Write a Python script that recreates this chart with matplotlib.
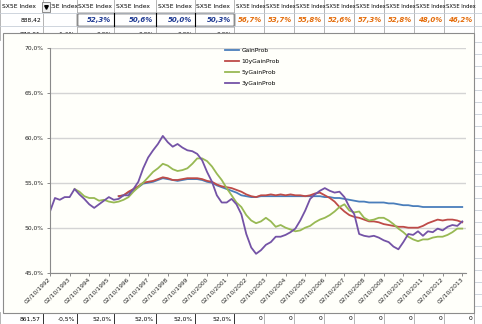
import pandas as pd
import matplotlib
matplotlib.use("Agg")
import matplotlib.pyplot as plt
from matplotlib.patches import Rectangle
from matplotlib.ticker import FuncFormatter, MultipleLocator
from datetime import datetime

plt.rcParams['font.family'] = ['DejaVu Sans']

# quarterly readings, Oct 1992 .. Oct 2013
dates = pd.date_range("1992-10-01", periods=85, freq="QS-OCT")

prob_3y = [51.8, 53.3, 53.1, 53.4, 53.4, 54.3, 53.7, 53.2, 52.6, 52.2,
           52.6, 53.0, 53.4, 53.1, 53.2, 53.6, 53.6, 54.3, 55.1, 56.6,
           57.8, 58.6, 59.3, 60.2, 59.5, 59.0, 59.3, 58.9, 58.6, 58.5,
           58.2, 57.5, 56.2, 55.1, 53.6, 52.8, 52.8, 53.2, 52.6, 51.5,
           49.3, 47.8, 47.1, 47.5, 48.1, 48.4, 49.0, 49.0, 49.2, 49.5,
           49.9, 50.8, 51.9, 53.2, 53.7, 54.1, 54.4, 54.1, 53.9, 54.0,
           53.4, 52.3, 51.5, 49.3, 49.1, 49.0, 49.1, 48.9, 48.6, 48.4,
           47.9, 47.6, 48.4, 49.3, 49.2, 49.6, 49.1, 49.6, 49.5, 49.9,
           49.7, 50.1, 50.3, 50.2, 50.7]

# 5y series starts 5 quarters in
prob_5y = [54.3, 54.0, 53.5, 53.3, 53.3, 53.0, 53.1, 52.9, 52.8, 52.9,
           53.1, 53.4, 54.0, 54.5, 55.0, 55.6, 56.2, 56.6, 57.1, 56.9,
           56.5, 56.3, 56.4, 56.6, 57.1, 57.7, 57.7, 57.4, 56.8, 56.0,
           55.3, 54.4, 53.6, 52.8, 52.3, 51.4, 50.8, 50.5, 50.7, 51.1,
           50.7, 50.1, 50.3, 50.0, 49.8, 49.6, 49.7, 50.0, 50.2, 50.6,
           50.9, 51.1, 51.4, 51.8, 52.3, 52.6, 51.9, 51.7, 51.8, 51.1,
           50.8, 50.9, 51.1, 51.1, 50.8, 50.4, 49.9, 49.5, 49.0, 48.7,
           48.5, 48.7, 48.7, 48.9, 49.0, 49.0, 49.2, 49.5, 49.9, 49.9]

# 10y and full-history series start 14 quarters in
prob_10y = [53.5, 53.6, 54.0, 54.3, 54.6, 55.0, 55.1, 55.2, 55.4, 55.6,
            55.5, 55.3, 55.3, 55.4, 55.5, 55.5, 55.5, 55.4, 55.2, 55.1,
            54.8, 54.6, 54.5, 54.4, 54.2, 54.0, 53.7, 53.5, 53.4, 53.6,
            53.6, 53.7, 53.6, 53.7, 53.6, 53.7, 53.6, 53.6, 53.5, 53.6,
            53.8, 53.9, 53.6, 53.3, 52.9, 52.3, 51.8, 51.4, 51.2, 51.1,
            50.9, 50.7, 50.7, 50.6, 50.4, 50.3, 50.2, 50.1, 50.1, 50.0,
            50.0, 50.0, 50.2, 50.5, 50.7, 50.9, 50.8, 50.9, 50.9, 50.8, 50.6]

prob_all = [53.5, 53.6, 53.9, 54.2, 54.5, 54.9, 55.0, 55.1, 55.3, 55.5,
            55.4, 55.3, 55.2, 55.3, 55.4, 55.4, 55.4, 55.3, 55.1, 55.0,
            54.7, 54.5, 54.3, 54.1, 53.9, 53.6, 53.5, 53.4, 53.4, 53.5,
            53.5, 53.5, 53.5, 53.5, 53.5, 53.5, 53.5, 53.5, 53.5, 53.5,
            53.5, 53.5, 53.4, 53.4, 53.3, 53.3, 53.2, 53.1, 53.0, 52.9,
            52.9, 52.8, 52.8, 52.8, 52.8, 52.7, 52.7, 52.6, 52.5, 52.5,
            52.4, 52.4, 52.3, 52.3, 52.3, 52.3, 52.3, 52.3, 52.3, 52.3, 52.3]

tick_years = list(range(1992, 2014))

# spreadsheet cells around the chart
header_labels = ["SX5E Index"] * 14
row2_left = ["888,42", ""]
row2_blue = ["52,3%", "50,6%", "50,0%", "50,3%"]
row2_orange = ["56,7%", "53,7%", "55,8%", "52,6%", "57,3%", "52,8%", "48,0%", "46,2%"]
row3_vals = ["873,01", "-1,6%", "0,0%", "0,0%", "0,0%", "0,0%"]
bottom_vals = ["861,57", "-0,5%", "52,0%", "52,0%", "52,0%", "52,0%",
               "0", "0", "0", "0", "0", "0", "0", "0"]

col_edges = [0, 43, 77, 114, 156, 195, 234, 264, 294, 324, 354, 384, 414, 444, 474, 482]

fig = plt.figure(figsize=(4.82, 3.24), dpi=100)
sheet = fig.add_axes([0, 0, 1, 1])
sheet.set_xlim(0, 482)
sheet.set_ylim(324, 0)
sheet.axis('off')

grid_c = '#c8ced8'
fs = 4.3

# cell grid
for x in col_edges:
    sheet.plot([x, x], [0, 40], color='#a8a8a8', lw=0.6)
    sheet.plot([x, x], [312, 324], color='#a8a8a8', lw=0.6)
for y in [13, 26]:
    sheet.plot([0, 482], [y, y], color=grid_c, lw=0.6)
for y in range(42, 312, 12):
    sheet.plot([474, 482], [y, y], color=grid_c, lw=0.6)
# dark box around blue cells
sheet.add_patch(Rectangle((77, 13), 157, 13, fill=False, ec='black', lw=1.0))
for x in col_edges[3:6]:
    sheet.plot([x, x], [13, 26], color='black', lw=0.8)
for x in col_edges[1:7]:
    sheet.plot([x, x], [312, 324], color='#333333', lw=0.7)

for i, lab in enumerate(header_labels):
    x0, x1 = col_edges[i], col_edges[i + 1]
    size = fs if x1 - x0 > 32 else 3.75
    sheet.text(x0 + 1.5, 7, lab, fontsize=size, va='center', ha='left')

# filter dropdown button
sheet.add_patch(Rectangle((42, 1.5), 8, 10, fc='#f0f0f0', ec='#7a7a7a', lw=0.6, zorder=5))
sheet.plot(46, 6.5, marker='v', ms=2.6, color='black', zorder=6)

for i, v in enumerate(row2_left):
    sheet.text(col_edges[i + 1] - 2, 20, v, fontsize=fs, va='center', ha='right')
for i, v in enumerate(row2_blue):
    sheet.text(col_edges[i + 3] - 3, 20, v, fontsize=5, va='center', ha='right',
               color='#1f3a93', fontweight='bold', fontstyle='italic')
for i, v in enumerate(row2_orange):
    sheet.text(col_edges[i + 7] - 1.5, 20, v, fontsize=5, va='center', ha='right',
               color='#e46c0a', fontweight='bold', fontstyle='italic')
for i, v in enumerate(row3_vals):
    sheet.text(col_edges[i + 1] - 2, 34, v, fontsize=fs, va='center', ha='right')
for i, v in enumerate(bottom_vals):
    sheet.text(col_edges[i + 1] - 2, 319, v, fontsize=fs, va='center', ha='right')

# chart frame
sheet.add_patch(Rectangle((3, 33), 471, 279.5, fc='#fffffa', ec='#8c8c8c', lw=0.8, zorder=10))

# plot area
ax = fig.add_axes([50 / 482, (324 - 272.7) / 324, 416 / 482, 225 / 324])
ax.set_facecolor('none')

ax.plot(dates[14:], prob_all, color='#4a7ebb', lw=1.3, label='GainProb')
ax.plot(dates[14:], prob_10y, color='#be4b48', lw=1.3, label='10yGainProb')
ax.plot(dates[5:], prob_5y, color='#98b954', lw=1.3, label='5yGainProb')
ax.plot(dates, prob_3y, color='#7453a6', lw=1.3, label='3yGainProb')

ax.set_ylim(45, 70)
ax.yaxis.set_major_locator(MultipleLocator(5))
ax.yaxis.set_major_formatter(FuncFormatter(lambda v, p: f"{v:.1f}%".replace('.', ',')))
ax.grid(axis='y', color='#d4d4d4', lw=1.0)
ax.set_axisbelow(True)

ax.set_xlim(datetime(1992, 10, 1), datetime(2013, 12, 10))
ticks = [datetime(y, 10, 2) for y in tick_years]
ax.set_xticks(ticks)
ax.set_xticklabels([d.strftime("%d/%m/%Y") for d in ticks], rotation=45,
                   ha='right', va='center', rotation_mode='anchor')

for s in ['top', 'right']:
    ax.spines[s].set_visible(False)
for s in ['left', 'bottom']:
    ax.spines[s].set_color('#8a8a8a')
    ax.spines[s].set_linewidth(0.8)
ax.tick_params(axis='both', labelsize=fs, colors='#8a8a8a', labelcolor='#222222',
               length=2.2, width=0.7, pad=1.5)
ax.tick_params(axis='y', pad=2.2)

ax.legend(loc='upper left', bbox_to_anchor=(225 / 482, 1 - 47.5 / 324),
          bbox_transform=fig.transFigure, frameon=False, fontsize=fs,
          borderpad=0, borderaxespad=0, labelspacing=1.0, handlelength=2.4,
          handletextpad=0.3)

fig.savefig("out.png", dpi=100)
